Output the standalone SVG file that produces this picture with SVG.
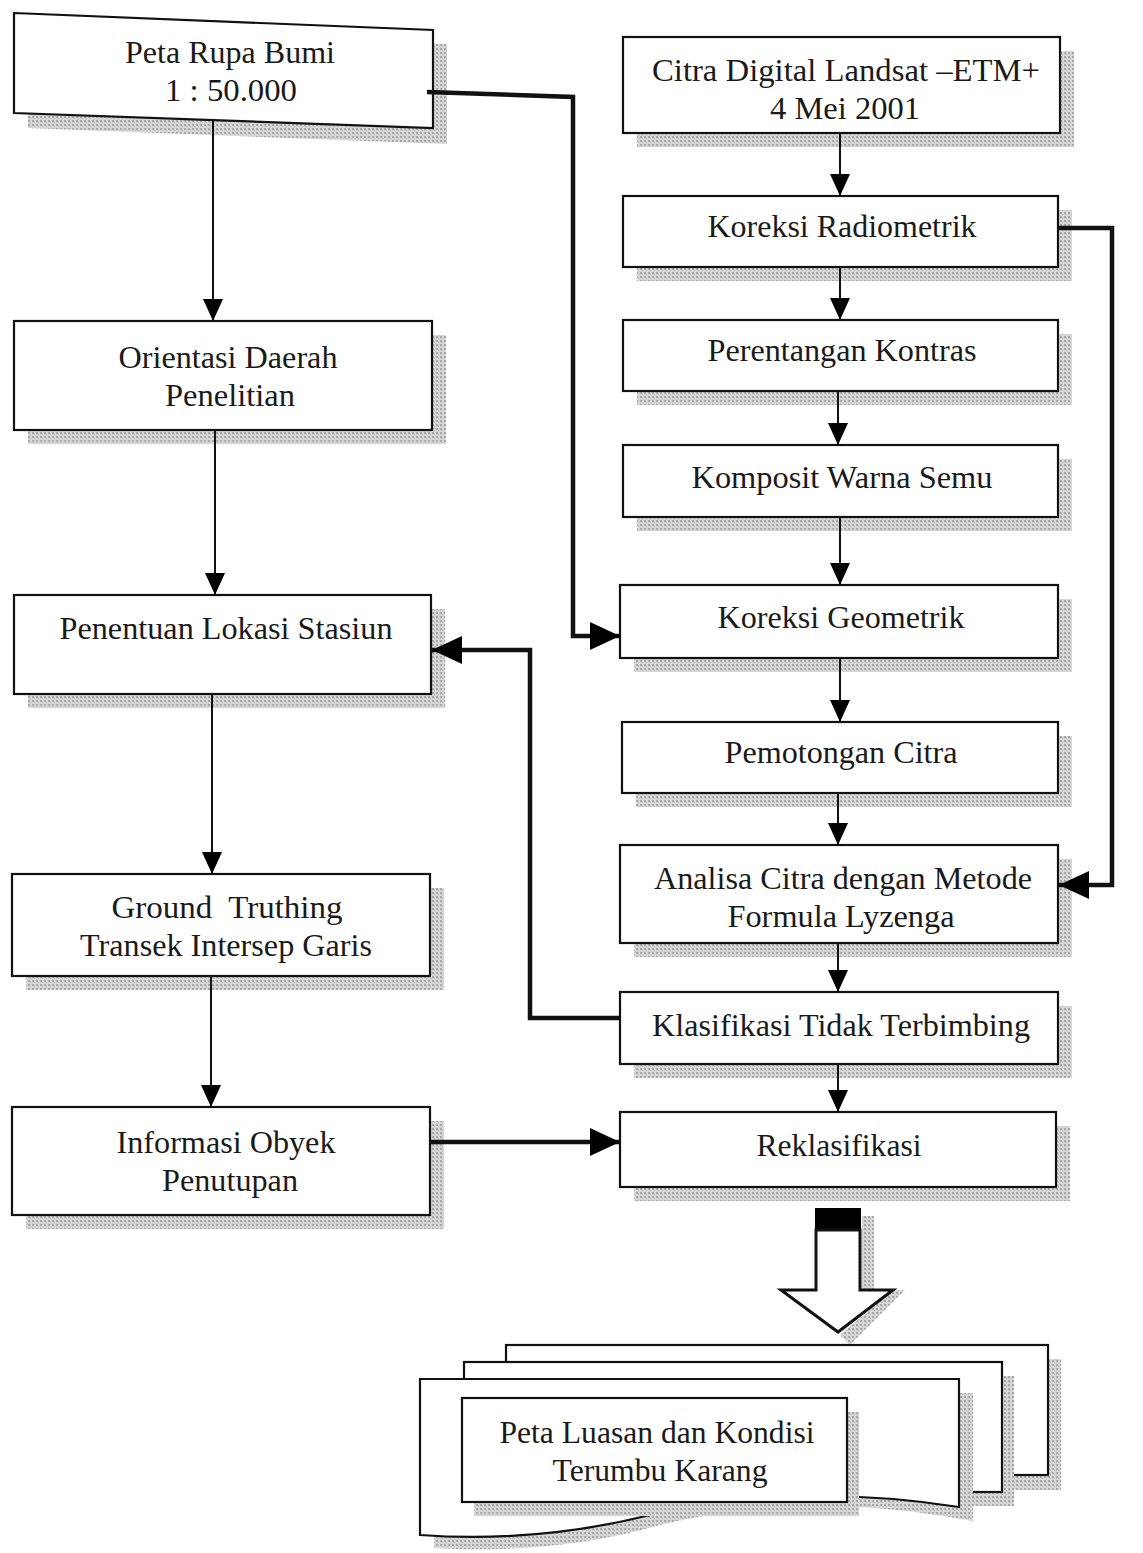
<svg xmlns="http://www.w3.org/2000/svg" width="1143" height="1553" viewBox="0 0 1143 1553">
<defs>
<pattern id="stip" width="4" height="4" patternUnits="userSpaceOnUse">
<rect width="4" height="4" fill="#d6d6d6"/>
<rect x="0" y="0" width="2" height="2" fill="#a8a8a8"/>
<rect x="2" y="2" width="1" height="1" fill="#bcbcbc"/>
</pattern>
<marker id="ah" markerUnits="userSpaceOnUse" markerWidth="22" markerHeight="20" refX="22" refY="10" orient="auto">
<path d="M0,0 L22,10 L0,20 z" fill="#000"/>
</marker>
<marker id="ahb" markerUnits="userSpaceOnUse" markerWidth="30" markerHeight="28" refX="30" refY="14" orient="auto">
<path d="M0,0 L30,14 L0,28 z" fill="#000"/>
</marker>
</defs>
<style>
.box{fill:#fff;stroke:#111;stroke-width:2.2}
.sh{fill:url(#stip);stroke:none}
.t{font-family:"Liberation Serif","Times New Roman",serif;font-size:32px;fill:#1a1a1a;text-anchor:middle}
.thin{fill:none;stroke:#111;stroke-width:2;marker-end:url(#ah)}
.thick{fill:none;stroke:#111;stroke-width:4.5;marker-end:url(#ahb)}
</style>
<rect width="1143" height="1553" fill="#fff"/>

<!-- Left column -->
<g id="peta-rupa-bumi">
<polygon class="sh" points="28,27 447,44 447,144 28,128"/>
<polygon class="box" points="14,13 433,30 433,128 14,113"/>
<text class="t" x="230" y="63" textLength="210" lengthAdjust="spacingAndGlyphs">Peta Rupa Bumi</text>
<text class="t" x="231" y="101" textLength="132" lengthAdjust="spacingAndGlyphs">1 : 50.000</text>
</g>
<g id="orientasi">
<rect class="sh" x="28" y="335" width="418" height="109"/>
<rect class="box" x="14" y="321" width="418" height="109"/>
<text class="t" x="228" y="368" textLength="219" lengthAdjust="spacingAndGlyphs">Orientasi Daerah</text>
<text class="t" x="230" y="406" textLength="130" lengthAdjust="spacingAndGlyphs">Penelitian</text>
</g>
<g id="penentuan">
<rect class="sh" x="28" y="609" width="417" height="99"/>
<rect class="box" x="14" y="595" width="417" height="99"/>
<text class="t" x="226" y="639" textLength="333" lengthAdjust="spacingAndGlyphs">Penentuan Lokasi Stasiun</text>
</g>
<g id="ground-truthing">
<rect class="sh" x="26" y="888" width="418" height="102"/>
<rect class="box" x="12" y="874" width="418" height="102"/>
<text class="t" x="227" y="918" textLength="231" lengthAdjust="spacingAndGlyphs" xml:space="preserve">Ground  Truthing</text>
<text class="t" x="226" y="956" textLength="292" lengthAdjust="spacingAndGlyphs">Transek Intersep Garis</text>
</g>
<g id="informasi">
<rect class="sh" x="26" y="1121" width="418" height="108"/>
<rect class="box" x="12" y="1107" width="418" height="108"/>
<text class="t" x="226" y="1153" textLength="219" lengthAdjust="spacingAndGlyphs">Informasi Obyek</text>
<text class="t" x="230" y="1191" textLength="136" lengthAdjust="spacingAndGlyphs">Penutupan</text>
</g>

<!-- Right column -->
<g id="citra-digital">
<rect class="sh" x="637" y="51" width="437" height="96"/>
<rect class="box" x="623" y="37" width="437" height="96"/>
<text class="t" x="846" y="81" textLength="388" lengthAdjust="spacingAndGlyphs">Citra Digital Landsat –ETM+</text>
<text class="t" x="845" y="119" textLength="150" lengthAdjust="spacingAndGlyphs">4 Mei 2001</text>
</g>
<g id="koreksi-radiometrik">
<rect class="sh" x="637" y="210" width="435" height="71"/>
<rect class="box" x="623" y="196" width="435" height="71"/>
<text class="t" x="842" y="237" textLength="269" lengthAdjust="spacingAndGlyphs">Koreksi Radiometrik</text>
</g>
<g id="perentangan-kontras">
<rect class="sh" x="637" y="334" width="435" height="71"/>
<rect class="box" x="623" y="320" width="435" height="71"/>
<text class="t" x="842" y="361" textLength="269" lengthAdjust="spacingAndGlyphs">Perentangan Kontras</text>
</g>
<g id="komposit-warna-semu">
<rect class="sh" x="637" y="459" width="435" height="72"/>
<rect class="box" x="623" y="445" width="435" height="72"/>
<text class="t" x="842" y="488" textLength="301" lengthAdjust="spacingAndGlyphs">Komposit Warna Semu</text>
</g>
<g id="koreksi-geometrik">
<rect class="sh" x="634" y="599" width="438" height="73"/>
<rect class="box" x="620" y="585" width="438" height="73"/>
<text class="t" x="841" y="628" textLength="247" lengthAdjust="spacingAndGlyphs">Koreksi Geometrik</text>
</g>
<g id="pemotongan-citra">
<rect class="sh" x="636" y="736" width="436" height="71"/>
<rect class="box" x="622" y="722" width="436" height="71"/>
<text class="t" x="841" y="763" textLength="233" lengthAdjust="spacingAndGlyphs">Pemotongan Citra</text>
</g>
<g id="analisa-citra">
<rect class="sh" x="634" y="859" width="438" height="98"/>
<rect class="box" x="620" y="845" width="438" height="98"/>
<text class="t" x="843" y="889" textLength="378" lengthAdjust="spacingAndGlyphs">Analisa Citra dengan Metode</text>
<text class="t" x="841" y="927" textLength="227" lengthAdjust="spacingAndGlyphs">Formula Lyzenga</text>
</g>
<g id="klasifikasi">
<rect class="sh" x="634" y="1006" width="438" height="72"/>
<rect class="box" x="620" y="992" width="438" height="72"/>
<text class="t" x="841" y="1036" textLength="378" lengthAdjust="spacingAndGlyphs">Klasifikasi Tidak Terbimbing</text>
</g>
<g id="reklasifikasi">
<rect class="sh" x="634" y="1126" width="436" height="75"/>
<rect class="box" x="620" y="1112" width="436" height="75"/>
<text class="t" x="839" y="1156" textLength="165" lengthAdjust="spacingAndGlyphs">Reklasifikasi</text>
</g>

<!-- Big hollow arrow -->
<g id="block-arrow">
<polygon class="sh" points="862,1216 874,1216 874,1290 905,1290 850,1345 840,1335 893,1290 862,1290"/>
<rect x="815" y="1208" width="46" height="22" fill="#000"/>
<polygon points="816,1230 860,1230 860,1290 893,1290 838,1332 781,1290 816,1290" fill="#fff" stroke="#111" stroke-width="3"/>
</g>

<!-- Document stack -->
<g id="peta-luasan">
<polygon class="sh" points="519,1359 1061,1359 1061,1490 519,1490"/>
<rect class="box" x="506" y="1345" width="542" height="130"/>
<polygon class="sh" points="478,1376 1014,1376 1014,1506 478,1506"/>
<rect class="box" x="464" y="1362" width="538" height="130"/>
<path class="sh" d="M434,1393 L973,1393 L973,1521 C860,1500 760,1500 660,1525 C580,1548 500,1552 434,1548 Z"/>
<path class="box" d="M420,1379 L959,1379 L959,1507 C850,1490 750,1492 650,1515 C570,1535 490,1540 420,1535 Z"/>
<rect class="sh" x="474" y="1412" width="385" height="104"/>
<rect class="box" x="462" y="1398" width="385" height="104"/>
<text class="t" x="657" y="1443" textLength="315" lengthAdjust="spacingAndGlyphs">Peta Luasan dan Kondisi</text>
<text class="t" x="660" y="1481" textLength="215" lengthAdjust="spacingAndGlyphs">Terumbu Karang</text>
</g>

<!-- Connectors -->
<g id="connectors">
<path class="thin" d="M213,120 L213,321"/>
<path class="thin" d="M215,430 L215,595"/>
<path class="thin" d="M212,694 L212,874"/>
<path class="thin" d="M211,976 L211,1107"/>
<path class="thin" d="M840,133 L840,196"/>
<path class="thin" d="M840,267 L840,320"/>
<path class="thin" d="M838,391 L838,445"/>
<path class="thin" d="M840,517 L840,585"/>
<path class="thin" d="M840,658 L840,722"/>
<path class="thin" d="M838,793 L838,845"/>
<path class="thin" d="M838,943 L838,992"/>
<path class="thin" d="M838,1064 L838,1112"/>
<path class="thick" d="M427,92 L573,97 L573,636 L620,636"/>
<path class="thick" d="M1058,228 L1112,228 L1112,885 L1059,885"/>
<path class="thick" d="M620,1018 L530,1018 L530,650 L432,650"/>
<path class="thick" d="M430,1142 L620,1142"/>
</g>
</svg>
